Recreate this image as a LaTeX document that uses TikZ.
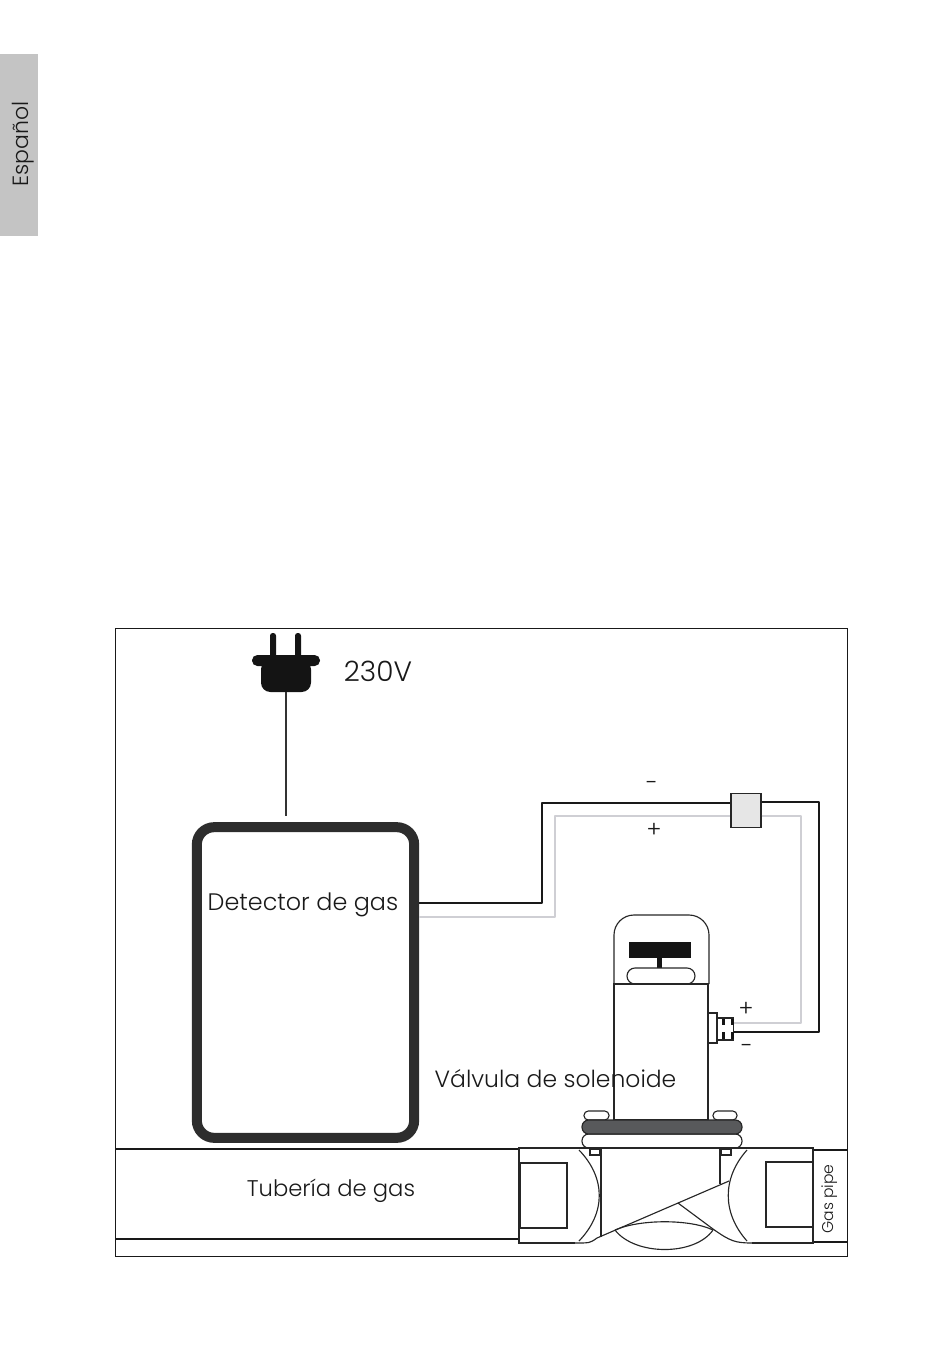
\documentclass[tikz,border=0pt]{standalone}
\usepackage{fontspec}
\setmainfont{Poppins}[UprightFont=* Light]
\definecolor{sidegray}{HTML}{C4C4C4}
\definecolor{wiregray}{HTML}{CFCFD4}
\definecolor{ringgray}{HTML}{58595B}
\definecolor{boxgray}{HTML}{E6E6E6}
\definecolor{darkframe}{HTML}{2D2D2D}
\tikzset{
  label/.style={inner sep=0pt,text=black!90},
  valveline/.style={draw=black!85,line width=0.85pt},
  blackwire/.style={draw=black!90,line width=1.7pt,line join=round},
  graywire/.style={draw=wiregray,line width=1.7pt,line join=round},
  pipeline/.style={draw=black!90,line width=1.8pt}
}
\begin{document}
\begin{tikzpicture}[x=0.75pt,y=-0.75pt]
        \useasboundingbox (0,0) rectangle (950,1364);
        % side tab
        \fill[sidegray] (0,54) rectangle (38,236);
        \node[label,rotate=90,font=\fontsize{16.5}{16.5}\selectfont] (tablabel) at (23,144) {Español};
        % outer frame
        \draw[black!90,line width=0.75pt] (115,628) rectangle (847,1256);
        % plug
        \fill[black!92,rounded corners=2pt] (270,633) rectangle (276,660);
        \fill[black!92,rounded corners=2pt] (295,633) rectangle (301,660);
        \fill[black!92,rounded corners=4pt] (252,655) rectangle (320,666);
        \fill[black!92,rounded corners=7pt] (261,660) rectangle (311,692);
        \coordinate (plug) at (286,692);
        \node[label,font=\fontsize{21}{21}\selectfont] (mains) at (378,671) {230V};
        % detector
        \node[draw=darkframe,line width=7.5pt,rounded corners=13pt,minimum width=163pt,minimum height=233pt,inner sep=0pt] (detector) at (305.5,982.5) {};
        \node[label,font=\fontsize{17.9}{17.9}\selectfont] (detectorlabel) at (303,905) {Detector de gas};
        \draw[black!80,line width=0.85pt,shorten >=5pt] (plug) -- (detector.north -| plug);
        % junction box and terminal
        \node[draw=black!85,fill=boxgray,line width=0.85pt,minimum width=22.5pt,minimum height=26pt,inner sep=0pt] (junction) at (746,810.5) {};
        \node[draw=black!85,fill=white,line width=0.85pt,minimum width=12.5pt,minimum height=16.5pt,inner sep=0pt] (terminal) at (725.5,1029) {};
        % gray wire
        \coordinate (grayA) at (555,917);
        \coordinate (grayB) at (555,816);
        \coordinate (grayC) at (801,816);
        \coordinate (grayD) at (801,1023);
        \draw[graywire] (detector.east |- grayA) -- (grayA) -- (grayB) -- (junction.west |- grayB);
        \draw[graywire] (junction.east |- grayC) -- (grayC) -- (grayD) -- (terminal.east |- grayD);
        % black wire
        \coordinate (blackA) at (542,903);
        \coordinate (blackB) at (542,803);
        \coordinate (blackC) at (819,802);
        \coordinate (blackD) at (819,1032);
        \draw[blackwire] (detector.east |- blackA) -- (blackA) -- (blackB) -- (junction.west |- blackB);
        \draw[blackwire] (junction.east |- blackC) -- (blackC) -- (blackD) -- (terminal.east |- blackD);
        % signs
        \node[label,font=\fontsize{17}{17}\selectfont] (minusone) at (652,785.5) {-};
        \node[label,font=\fontsize{17}{17}\selectfont] (plusone) at (654,830) {+};
        \node[label,font=\fontsize{17}{17}\selectfont] (plustwo) at (746,1009) {+};
        \node[label,font=\fontsize{17}{17}\selectfont] (minustwo) at (747,1048.5) {-};
        % solenoid
        \draw[valveline,rounded corners=15pt] (614,984) -- (614,915) -- (709,915) -- (709,984);
        \draw[valveline] (614,984) rectangle (708,1120);
        \fill[black!92] (629,942) rectangle (691,958);
        \fill[black!92] (657,958) rectangle (662,968);
        \draw[valveline,rounded corners=6pt] (627,984) rectangle (695,968);
        % solenoid plug
        \draw[valveline] (708,1013) rectangle (717,1043);
        \fill[black!92] (722,1019) rectangle (725,1025);
        \fill[black!92] (731,1019) rectangle (734,1025);
        \fill[black!92] (722,1032) rectangle (725,1039);
        \fill[black!92] (731,1032) rectangle (734,1039);
        % rings
        \draw[valveline,rounded corners=3.2pt] (584,1111) rectangle (609,1120);
        \draw[valveline,rounded corners=3.2pt] (713,1111) rectangle (737,1120);
        \draw[valveline,rounded corners=5pt] (582,1134) rectangle (742,1148);
        \draw[valveline,fill=ringgray,rounded corners=5pt] (582,1120) rectangle (742,1134);
        % gas pipe
        \draw[pipeline] (116,1149) -- (519,1149);
        \draw[pipeline] (116,1239) -- (519,1239);
        \draw[pipeline] (813,1150) -- (847,1150);
        \draw[pipeline] (813,1242) -- (847,1242);
        % valve body
        \draw[valveline,line width=1.1pt] (575,1243) -- (519,1243) -- (519,1148) -- (813,1148) -- (813,1243) -- (752,1243);
        \draw[valveline] (520,1163) rectangle (567,1228);
        \draw[valveline] (813,1162) rectangle (766,1227);
        \draw[valveline] (590,1149) rectangle (600,1155);
        \draw[valveline] (721,1149) rectangle (731,1155);
        \draw[valveline] (601,1148) -- (601,1237);
        \draw[valveline] (720,1148) -- (720,1184);
        % valve seat curves
        \draw[valveline] (579,1150) .. controls (606,1178) and (606,1213) .. (579,1241);
        \draw[valveline] (747,1150) .. controls (722,1178) and (722,1213) .. (747,1241);
        \draw[valveline] (575,1243) .. controls (590,1243) and (590,1243) .. (597,1238) -- (729,1181);
        \draw[valveline] (678,1203) -- (713,1229) .. controls (730,1241) and (735,1243) .. (752,1243);
        \draw[valveline] (615,1230) .. controls (640,1219) and (690,1219) .. (713,1230);
        \draw[valveline] (615,1230) .. controls (635,1256) and (695,1256) .. (713,1230);
        % pipe labels
        \node[label,font=\fontsize{17.6}{17.6}\selectfont] (valvelabel) at (555.5,1079) {Válvula de solenoide};
        \node[label,font=\fontsize{17}{17}\selectfont] (pipelabel) at (331,1191) {Tubería de gas};
        \node[label,rotate=90,font=\fontsize{11.7}{11.7}\selectfont] (gaspipelabel) at (830,1199) {Gas pipe};
    \end{tikzpicture}
\end{document}
